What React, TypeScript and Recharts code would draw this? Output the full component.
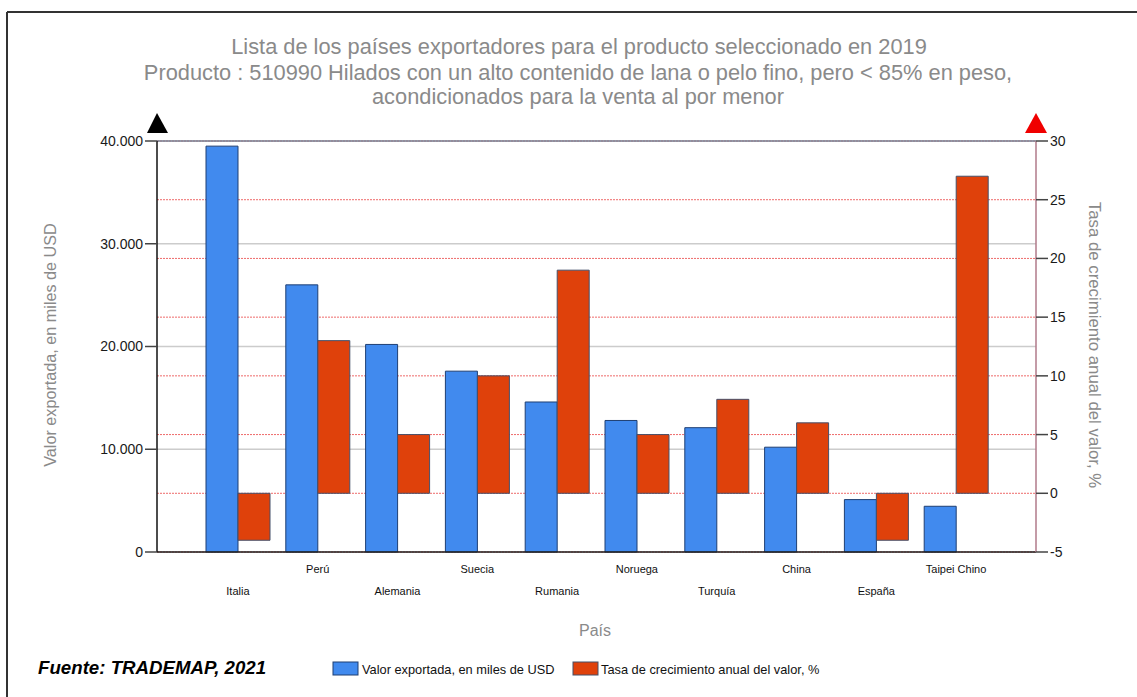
import React from "react";
import {
  BarChart,
  Bar,
  XAxis,
  YAxis,
  CartesianGrid,
  ReferenceLine,
} from "recharts";

const countries = [
  "Italia",
  "Perú",
  "Alemania",
  "Suecia",
  "Rumania",
  "Noruega",
  "Turquía",
  "China",
  "España",
  "Taipei Chino",
];
const exportValues = [39500, 26000, 20200, 17600, 14600, 12800, 12100, 10200, 5100, 4450];
const growthRates = [-4, 13, 5, 10, 19, 5, 8, 6, -4, 27];
const leftTicks = [0, 10000, 20000, 30000, 40000];
const rightTicks = [-5, 0, 5, 10, 15, 20, 25, 30];

const data = countries.map((country, i) => ({
  country,
  valor: exportValues[i],
  tasa: growthRates[i],
}));

const FONT = "'Liberation Sans', Arial, sans-serif";
const GREY_TEXT = "#8a8a8a";

const formatThousands = (v: number) =>
  v.toString().replace(/\B(?=(\d{3})+(?!\d))/g, ".");

const CountryTick = (props: any) => {
  const { x, y, payload, index } = props;
  const i = payload?.index ?? index ?? 0;
  const lower = i % 2 === 0;
  return (
    <text
      x={x}
      y={y + (lower ? 37 : 15)}
      textAnchor="middle"
      dominantBaseline="central"
      fontSize={11}
      fontFamily={FONT}
      fill="#111"
    >
      {payload.value}
    </text>
  );
};

export default function App() {
  return (
    <div
      style={{
        position: "absolute",
        left: 0,
        top: 0,
        width: 1137,
        height: 697,
        background: "#fff",
        fontFamily: FONT,
      }}
    >
      <BarChart
        width={1137}
        height={697}
        data={data}
        margin={{ top: 141, right: 0, bottom: 85, left: 0 }}
        barGap={0}
        barSize={32}
      >
        <CartesianGrid
          yAxisId="left"
          vertical={false}
          stroke="#cccccc"
          strokeWidth={1.5}
        />
        <CartesianGrid
          yAxisId="right"
          vertical={false}
          stroke="#ee6a6a"
          strokeDasharray="2 1"
        />
        <XAxis
          dataKey="country"
          interval={0}
          padding={{ left: 41, right: 40 }}
          height={60}
          tickSize={0}
          tickLine={false}
          axisLine={{ stroke: "#222", strokeWidth: 1.5 }}
          tick={<CountryTick />}
        />
        <YAxis
          yAxisId="left"
          orientation="left"
          width={157}
          domain={[0, 40000]}
          ticks={leftTicks}
          tickFormatter={formatThousands}
          tickSize={12}
          tickMargin={2}
          axisLine={{ stroke: "#111", strokeWidth: 1.5 }}
          tickLine={{ stroke: "#444", strokeWidth: 1.5 }}
          tick={{ fill: "#1a1a1a", fontSize: 14, fontFamily: FONT }}
        />
        <YAxis
          yAxisId="right"
          orientation="right"
          width={101}
          domain={[-5, 30]}
          ticks={rightTicks}
          tickSize={12}
          tickMargin={2}
          axisLine={{ stroke: "#b07a8a", strokeWidth: 1.5 }}
          tickLine={{ stroke: "#444", strokeWidth: 1.5 }}
          tick={{ fill: "#1a1a1a", fontSize: 14, fontFamily: FONT }}
        />
        <ReferenceLine yAxisId="left" y={40000} stroke="#7a8598" strokeWidth={1.5} />
        <Bar
          yAxisId="left"
          dataKey="valor"
          fill="#418AEE"
          stroke="#1f3f73"
          strokeWidth={1}
          isAnimationActive={false}
        />
        <Bar
          yAxisId="right"
          dataKey="tasa"
          fill="#DF410B"
          stroke="#45506a"
          strokeWidth={1}
          isAnimationActive={false}
        />
      </BarChart>

      <svg
        width={1137}
        height={697}
        style={{ position: "absolute", left: 0, top: 0, pointerEvents: "none" }}
      >
        <line x1={7} y1={12} x2={1137} y2={12} stroke="#333" strokeWidth={2} />
        <line x1={7} y1={12} x2={7} y2={697} stroke="#333" strokeWidth={2} />
        <polygon points="157,113 147,133 168,133" fill="#000" />
        <polygon points="1036,113 1025,133 1047,133" fill="#f00000" />
        <g fill={GREY_TEXT} fontFamily={FONT} fontSize={21.8} textAnchor="middle">
          <text x={579} y={46} dominantBaseline="central">
            Lista de los países exportadores para el producto seleccionado en 2019
          </text>
          <text x={578} y={72} dominantBaseline="central">
            Producto : 510990 Hilados con un alto contenido de lana o pelo fino, pero &lt; 85% en peso,
          </text>
          <text x={578} y={96} dominantBaseline="central">
            acondicionados para la venta al por menor
          </text>
        </g>
        <text
          x={50}
          y={345}
          transform="rotate(-90 50 345)"
          textAnchor="middle"
          dominantBaseline="central"
          fill={GREY_TEXT}
          fontSize={16.2}
          fontFamily={FONT}
        >
          Valor exportada, en miles de USD
        </text>
        <text
          x={1094}
          y={345}
          transform="rotate(90 1094 345)"
          textAnchor="middle"
          dominantBaseline="central"
          fill={GREY_TEXT}
          fontSize={16.8}
          fontFamily={FONT}
        >
          Tasa de crecimiento anual del valor, %
        </text>
        <text
          x={595}
          y={630}
          textAnchor="middle"
          dominantBaseline="central"
          fill={GREY_TEXT}
          fontSize={16}
          fontFamily={FONT}
        >
          País
        </text>
        <text
          x={38}
          y={667}
          dominantBaseline="central"
          fill="#000"
          fontSize={18.7}
          fontWeight="bold"
          fontStyle="italic"
          fontFamily={FONT}
        >
          Fuente: TRADEMAP, 2021
        </text>
        <rect x={333} y={662} width={25} height={13} fill="#418AEE" stroke="#1f3f73" />
        <text x={362} y={669} dominantBaseline="central" fontSize={12.8} fill="#111" fontFamily={FONT}>
          Valor exportada, en miles de USD
        </text>
        <rect x={573} y={662} width={25} height={13} fill="#DF410B" stroke="#45506a" />
        <text x={601} y={669} dominantBaseline="central" fontSize={12.8} fill="#111" fontFamily={FONT}>
          Tasa de crecimiento anual del valor, %
        </text>
      </svg>
    </div>
  );
}
